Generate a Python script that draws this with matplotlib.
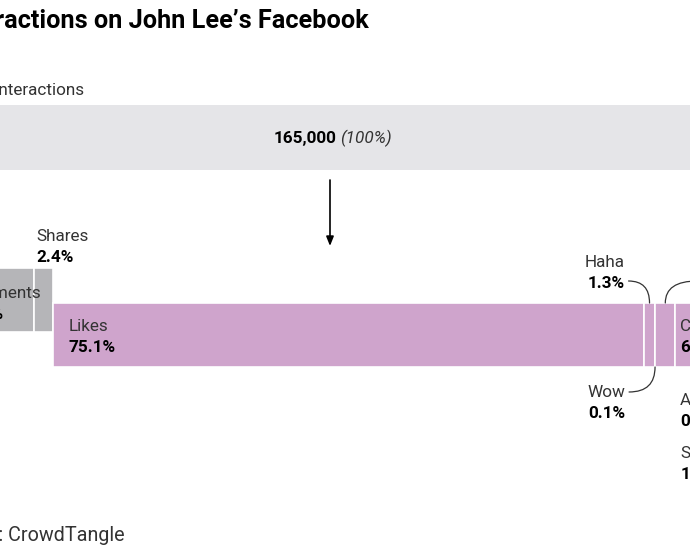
import matplotlib
matplotlib.use("Agg")
import matplotlib.pyplot as plt

plt.rcParams['font.family'] = ['Roboto', 'DejaVu Sans']

# ---------------- data ----------------
title = "Interactions on John Lee\u2019s Facebook"
subtitle = "Total interactions"
source = "Source: CrowdTangle"
total_interactions = 165000
total_pct = 100
other_labels = ["Comments", "Shares"]
other_values = [12.4, 2.4]
reaction_labels = ["Likes", "Haha", "Wow", "Love", "Care", "Angry", "Sad"]
reaction_values = [75.1, 1.3, 0.1, 2.5, 6.0, 0.3, 1.0]

# ---------------- layout ----------------
W, H = 690, 550
PX = 7.88          # pixels per percentage point
ORIGIN = -64       # pixel position of 0 %
LIGHT = '#e5e5e8'
GRAY = '#b5b5b8'
PURPLE = '#cfa4cc'
NAMEC = '#333333'
FS = 12.3

fig = plt.figure(figsize=(W / 100, H / 100), dpi=100)
ax = fig.add_axes([0, 0, 1, 1])
ax.axis('off')
ax.set_xlim(-ORIGIN / PX, (W - ORIGIN) / PX)
ax.set_ylim(H, 0)

def fx(px):
    return px / W

# title / subtitle / source
fig.text(fx(-49), 1 - 28 / H, title, fontsize=18.2, fontweight='bold', color='black', va='baseline')
fig.text(fx(-49), 1 - 95 / H, subtitle, fontsize=FS, color=NAMEC, va='baseline')
fig.text(fx(-63), 1 - 541 / H, source, fontsize=14.2, color=NAMEC, va='baseline')

# total bar
ax.barh(137.5, total_pct, left=0, height=65, color=LIGHT, linewidth=0)
center = total_pct / 2
ax.annotate(f"{total_interactions:,}", xy=(center, 143), xytext=(6, 0), textcoords='offset pixels',
            ha='right', va='baseline', fontsize=FS, fontweight='bold', color='black')
ax.annotate(f"({total_pct}%)", xy=(center, 143), xytext=(10, 0), textcoords='offset pixels',
            ha='left', va='baseline', fontsize=FS, style='italic', color=NAMEC)
ax.annotate('', xy=(center, 246), xytext=(center, 180),
            arrowprops=dict(arrowstyle='-|>,head_length=0.55,head_width=0.22', lw=1.2,
                            color='black', shrinkA=0, shrinkB=0))

# comments / shares
o_left = [sum(other_values[:i]) for i in range(len(other_values))]
ax.barh(300, other_values, left=o_left, height=64, color=GRAY, edgecolor='white', linewidth=1.2)

# reactions
start = sum(other_values)
r_left = [start + sum(reaction_values[:i]) for i in range(len(reaction_values))]
ax.barh(335, reaction_values, left=r_left, height=64, color=PURPLE, edgecolor='white', linewidth=1.2)

def label(x, y, dx, name, value, ha='left'):
    ax.annotate(name, xy=(x, y), xytext=(dx, 0), textcoords='offset pixels',
                ha=ha, va='baseline', fontsize=FS, color=NAMEC, annotation_clip=False)
    ax.annotate(f"{value}%", xy=(x, y + 21), xytext=(dx, 0), textcoords='offset pixels',
                ha=ha, va='baseline', fontsize=FS, fontweight='bold', color='black',
                annotation_clip=False)

# comments & shares labels
label(o_left[0], 298, 21, other_labels[0], other_values[0])
label(o_left[1], 241, 3, other_labels[1], other_values[1])

# likes
label(r_left[0], 331, 16, reaction_labels[0], reaction_values[0])

def mid(i):
    return r_left[i] + reaction_values[i] / 2

def leader(x, y, dx, dy):
    ax.annotate('', xy=(x, y), xytext=(dx, dy), textcoords='offset pixels',
                annotation_clip=False,
                arrowprops=dict(arrowstyle='-', connectionstyle='angle3,angleA=0,angleB=90',
                                color=NAMEC, lw=0.9, shrinkA=0, shrinkB=0))

# Haha (above)
label(mid(1), 267, -25, reaction_labels[1], reaction_values[1], ha='right')
leader(mid(1), 303, -21, 22)
# Wow (below)
label(mid(2), 397, -30, reaction_labels[2], reaction_values[2], ha='right')
leader(mid(2), 367, -26, -25)
# Love (above, right)
label(mid(3), 287, 38, reaction_labels[3], reaction_values[3])
leader(mid(3), 303, 32, 22)
# Care (inside)
label(r_left[4], 331, 5, reaction_labels[4], reaction_values[4])
# Angry / Sad (below right)
label(r_left[4], 405, 5, reaction_labels[5], reaction_values[5])
label(r_left[4], 458, 5, reaction_labels[6], reaction_values[6])

fig.savefig('out.png', dpi=100)
